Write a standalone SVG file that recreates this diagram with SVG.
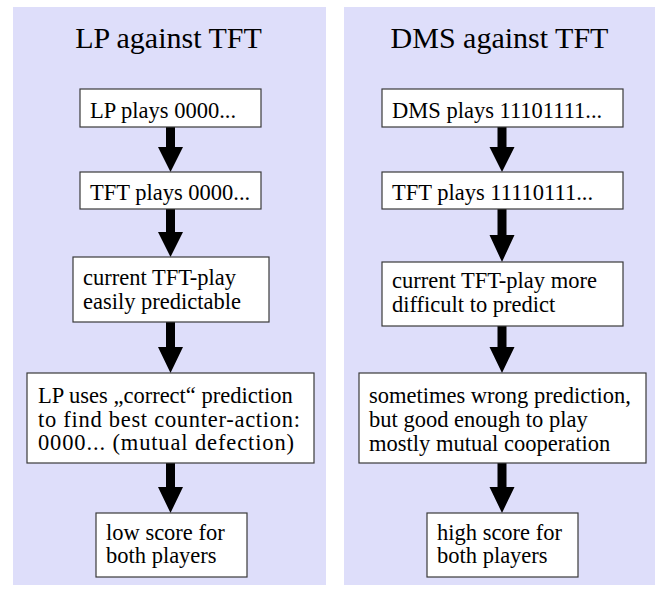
<svg xmlns="http://www.w3.org/2000/svg" width="660" height="589" viewBox="0 0 660 589">
<style>
.panel{fill:#dedefa;stroke:none}
.box{fill:#ffffff;stroke:#3a3a3a;stroke-width:1.2}
.arr{fill:#000;stroke:none}
.t{font-family:'Liberation Serif',serif;font-size:22.5px;fill:#000}
.title{font-family:'Liberation Serif',serif;font-size:30px;fill:#000;text-anchor:middle}
</style>
<rect x="0" y="0" width="660" height="589" fill="#ffffff"/>
<g id="panel-left">
<rect class="panel" x="13" y="7" width="313" height="578"/>
<text class="title" x="168.5" y="48">LP against TFT</text>
</g>
<g id="panel-right">
<rect class="panel" x="344" y="7" width="311" height="578"/>
<text class="title" x="499.5" y="48">DMS against TFT</text>
</g>
<g id="connectors">
<path class="arr" d="M166,127 H175 V147 H183 L170.5,172 L158,147 H166 Z"/>
<path class="arr" d="M166,209 H175 V232 H183 L170.5,257 L158,232 H166 Z"/>
<path class="arr" d="M166,322 H175 V347 H183 L170.5,373 L158,347 H166 Z"/>
<path class="arr" d="M166,463 H175 V487 H183 L170.5,513 L158,487 H166 Z"/>
<path class="arr" d="M497.5,127 H506.5 V147 H514.5 L502,172 L489.5,147 H497.5 Z"/>
<path class="arr" d="M497.5,209 H506.5 V235 H514.5 L502,262 L489.5,235 H497.5 Z"/>
<path class="arr" d="M497.5,326 H506.5 V347 H514.5 L502,373 L489.5,347 H497.5 Z"/>
<path class="arr" d="M497.5,463 H506.5 V487 H514.5 L502,513 L489.5,487 H497.5 Z"/>
</g>
<g id="lp1">
<rect class="box" x="80" y="89" width="181" height="38"/>
<text class="t" x="90" y="118">LP plays 0000...</text>
</g>
<g id="lp2">
<rect class="box" x="80" y="172" width="181" height="37"/>
<text class="t" x="90" y="200">TFT plays 0000...</text>
</g>
<g id="lp3">
<rect class="box" x="73" y="257" width="196" height="65"/>
<text class="t" x="83" y="285">current TFT-play</text>
<text class="t" x="83" y="309">easily predictable</text>
</g>
<g id="lp4">
<rect class="box" x="27" y="373" width="287" height="90"/>
<text class="t" x="38" y="403">LP uses &#8222;correct&#8220; prediction</text>
<text class="t" x="38" y="427" textLength="262" lengthAdjust="spacing">to find best counter-action:</text>
<text class="t" x="38" y="450" textLength="256" lengthAdjust="spacing">0000... (mutual defection)</text>
</g>
<g id="lp5">
<rect class="box" x="96" y="513" width="151" height="64"/>
<text class="t" x="106" y="540">low score for</text>
<text class="t" x="106" y="563">both players</text>
</g>
<g id="dms1">
<rect class="box" x="382" y="89" width="241" height="38"/>
<text class="t" x="392" y="118">DMS plays 11101111...</text>
</g>
<g id="dms2">
<rect class="box" x="382" y="172" width="241" height="37"/>
<text class="t" x="392" y="200">TFT plays 11110111...</text>
</g>
<g id="dms3">
<rect class="box" x="382" y="262" width="241" height="64"/>
<text class="t" x="392" y="288">current TFT-play more</text>
<text class="t" x="392" y="312">difficult to predict</text>
</g>
<g id="dms4">
<rect class="box" x="359" y="373" width="287" height="90"/>
<text class="t" x="369" y="403">sometimes wrong prediction,</text>
<text class="t" x="369" y="427">but good enough to play</text>
<text class="t" x="369" y="451">mostly mutual cooperation</text>
</g>
<g id="dms5">
<rect class="box" x="427" y="513" width="151" height="64"/>
<text class="t" x="437" y="540">high score for</text>
<text class="t" x="437" y="563">both players</text>
</g>
</svg>
